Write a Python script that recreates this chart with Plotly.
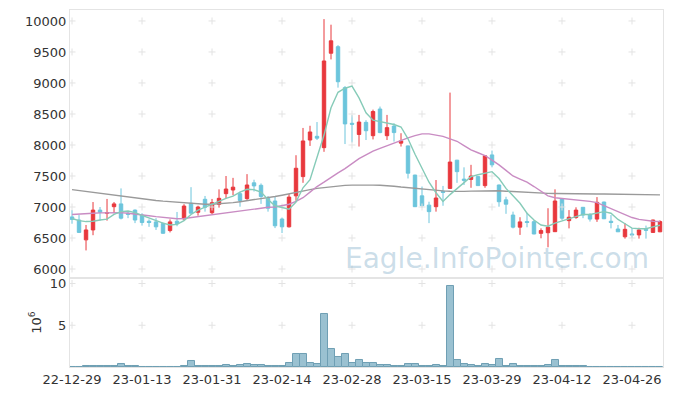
import plotly.graph_objects as go
from plotly.subplots import make_subplots

dates = [
    "22-12-29", "23-01-02", "23-01-03", "23-01-04", "23-01-05", "23-01-06", "23-01-09", "23-01-10",
    "23-01-11", "23-01-12", "23-01-13", "23-01-16", "23-01-17", "23-01-18", "23-01-19", "23-01-20",
    "23-01-25", "23-01-26", "23-01-27", "23-01-30", "23-01-31", "23-02-01", "23-02-02", "23-02-03",
    "23-02-06", "23-02-07", "23-02-08", "23-02-09", "23-02-10", "23-02-13", "23-02-14", "23-02-15",
    "23-02-16", "23-02-17", "23-02-20", "23-02-21", "23-02-22", "23-02-23", "23-02-24", "23-02-27",
    "23-02-28", "23-03-02", "23-03-03", "23-03-06", "23-03-07", "23-03-08", "23-03-09", "23-03-10",
    "23-03-13", "23-03-14", "23-03-15", "23-03-16", "23-03-17", "23-03-20", "23-03-21", "23-03-22",
    "23-03-23", "23-03-24", "23-03-27", "23-03-28", "23-03-29", "23-03-30", "23-03-31", "23-04-03",
    "23-04-04", "23-04-05", "23-04-06", "23-04-07", "23-04-10", "23-04-11", "23-04-12", "23-04-13",
    "23-04-14", "23-04-17", "23-04-18", "23-04-19", "23-04-20", "23-04-21", "23-04-24", "23-04-25",
    "23-04-26", "23-04-27", "23-04-28", "23-05-02", "23-05-03",
]

opens = [
    6840, 6790, 6470, 6630, 6950, 6900, 7005, 7050, 6900, 6950,
    6870, 6770, 6760, 6735, 6620, 6770, 6810, 7060, 6915, 7124,
    6908, 7043, 7215, 7274, 7215, 7135, 7390, 7350, 7140, 7097,
    6806, 6680, 7180, 7490, 8080, 8140, 7957, 9480, 9585, 8925,
    8350, 8170, 8365, 8150, 8580, 8150, 8305, 8030, 7985, 7515,
    7180, 7030, 7005, 7255, 7300, 7755, 7450, 7445, 7490, 7345,
    7840, 7355, 7115, 6870, 6675, 6765, 6763, 6575, 6585, 6602,
    7130, 6780, 6830, 6995, 6880, 6805, 7080, 6770, 6645, 6520,
    6565, 6550, 6640, 6590, 6600,
]
highs = [
    6950, 6870, 6710, 7080, 7000, 7130, 7080, 7300, 6930, 6960,
    6900, 6800, 6820, 6750, 6800, 6920, 7045, 7320, 7020, 7178,
    7130, 7285, 7500, 7470, 7247, 7530, 7440, 7380, 7177, 7177,
    6830, 7210, 7835, 8275, 8310, 8370, 10030, 9940, 9610, 8950,
    8480, 8485, 8400, 8570, 8620, 8485, 8350, 8190, 7990, 7520,
    7330, 7085, 7435, 7340, 8845, 7760, 7640, 7680, 7495, 7830,
    7910, 7360, 7165, 6925, 6835, 6908, 6790, 6655, 6980, 7285,
    7135, 6950, 6995, 7000, 6900, 7160, 7085, 6870, 6710, 6740,
    6660, 6665, 6700, 6795, 6785,
]
lows = [
    6730, 6580, 6300, 6545, 6780, 6780, 6900, 6800, 6820, 6740,
    6700, 6680, 6630, 6570, 6590, 6690, 6780, 6890, 6860, 6925,
    6887, 6990, 7140, 7190, 7005, 7115, 7250, 7050, 6925, 6660,
    6580, 6670, 7100, 7390, 7985, 8080, 7890, 9380, 8925, 8015,
    8040, 7975, 8080, 8090, 8190, 8080, 8055, 7975, 7460, 7000,
    6990, 6740, 6925, 7020, 7295, 7390, 7355, 7310, 7340, 7310,
    7640, 7005, 6890, 6655, 6550, 6673, 6560, 6495, 6350, 6600,
    6790, 6655, 6810, 6820, 6765, 6760, 6805, 6655, 6600, 6490,
    6500, 6490, 6490, 6585, 6595,
]
closes = [
    6800, 6590, 6630, 6950, 6915, 6910, 7050, 6820, 6880, 6790,
    6750, 6750, 6680, 6576, 6760, 6730, 7015, 6900, 7000, 6995,
    7070, 7140, 7290, 7320, 7105, 7355, 7340, 7170, 6980, 6697,
    6680, 7160, 7625, 8065, 8210, 8110, 9355, 9680, 9020, 8340,
    8335, 8370, 8230, 8540, 8200, 8280, 8200, 8065, 7545, 7005,
    7020, 6925, 7145, 7235, 7725, 7570, 7430, 7500, 7345, 7825,
    7680, 7085, 7045, 6675, 6760, 6750, 6565, 6620, 6675, 7097,
    6820, 6835, 6950, 6870, 6805, 7075, 6810, 6750, 6600, 6640,
    6550, 6630, 6625, 6790, 6765,
]
volumes = [  # millions of shares
    0.0, 0.0, 0.08, 0.1, 0.08, 0.08, 0.1, 0.35, 0.1, 0.08,
    0.0, 0.0, 0.0, 0.0, 0.0, 0.0, 0.08, 0.75, 0.08, 0.08,
    0.08, 0.08, 0.25, 0.1, 0.25, 0.4, 0.25, 0.25, 0.1, 0.1,
    0.1, 0.45, 1.5, 1.5, 0.5, 0.35, 6.4, 2.1, 1.15, 1.5,
    0.52, 0.88, 0.52, 0.52, 0.28, 0.28, 0.12, 0.12, 0.4, 0.4,
    0.15, 0.15, 0.28, 0.15, 9.7, 0.8, 0.4, 0.28, 0.15, 0.4,
    0.28, 1.0, 0.15, 0.4, 0.15, 0.15, 0.08, 0.08, 0.28, 0.8,
    0.15, 0.08, 0.08, 0.08, 0.0, 0.05, 0.05, 0.05, 0.05, 0.05,
    0.0, 0.0, 0.0, 0.05, 0.05,
]
ma5 = [
    6815, 6780, 6765, 6770, 6790, 6805, 6880, 6925, 6935, 6910,
    6865, 6820, 6780, 6740, 6710, 6720, 6780, 6880, 6950, 7000,
    7050, 7095, 7140, 7175, 7240, 7285, 7280, 7240, 7120, 7020,
    6990, 6965, 7080, 7310, 7440, 7800, 8160, 8600, 8850, 8915,
    8950, 8760, 8520, 8400, 8375, 8355, 8330, 8290, 8100, 7850,
    7620, 7400, 7230, 7090, 7200, 7300, 7400, 7490, 7520, 7545,
    7570, 7460, 7300, 7180, 7060, 6900, 6790, 6710, 6690, 6740,
    6775, 6800, 6845, 6880, 6880, 6900, 6925, 6900, 6800, 6730,
    6660, 6650, 6650, 6680, 6705,
]
ma20 = [
    6880, 6890, 6895, 6900, 6905, 6910, 6910, 6910, 6900, 6890,
    6875, 6860, 6845, 6830, 6820, 6810, 6815, 6830, 6850, 6870,
    6885, 6900, 6912, 6925, 6938, 6950, 6970, 6990, 6995, 7000,
    7020, 7045, 7090, 7150, 7240, 7330, 7400, 7480, 7550, 7620,
    7700, 7780, 7840, 7900, 7945, 7990, 8035, 8080, 8115, 8150,
    8180, 8180, 8165, 8140, 8100, 8060, 7990, 7920, 7875, 7830,
    7755, 7680, 7590, 7500, 7450, 7400, 7330, 7260, 7180, 7150,
    7140, 7130, 7120, 7110, 7090, 7070, 7020, 6970, 6920, 6875,
    6830, 6800, 6780, 6770, 6765,
]
ma60 = [
    7280, 7265, 7250, 7235, 7220, 7200, 7185, 7170, 7155, 7140,
    7130, 7118, 7106, 7094, 7084, 7075, 7068, 7060, 7052, 7045,
    7045, 7050, 7060, 7070, 7085, 7100, 7115, 7130, 7150, 7170,
    7190, 7215, 7240, 7260, 7280, 7300, 7315, 7330, 7340, 7348,
    7352, 7355, 7355, 7353, 7350, 7345, 7335, 7322, 7310, 7300,
    7290, 7280, 7270, 7260, 7255, 7250, 7252, 7256, 7260, 7265,
    7270, 7262, 7255, 7248, 7240, 7235, 7230, 7225, 7220, 7218,
    7215, 7214, 7213, 7212, 7211, 7210, 7209, 7208, 7207, 7206,
    7205, 7202, 7200, 7198, 7195,
]

price_ticks = [6000, 6500, 7000, 7500, 8000, 8500, 9000, 9500, 10000]
volume_ticks = [5, 10]
x_tick_labels = dates[::10]

FONT = "DejaVu Sans"
UP = "#e8383d"
DOWN = "#6cc5dc"
FRAME = "#e4e4e4"
GRIDMARK = "#e3e3e3"

fig = make_subplots(rows=2, cols=1, shared_xaxes=True, vertical_spacing=0)

fig.add_trace(go.Candlestick(
    x=dates, open=opens, high=highs, low=lows, close=closes,
    increasing=dict(line=dict(color=UP, width=1), fillcolor=UP),
    decreasing=dict(line=dict(color=DOWN, width=1), fillcolor=DOWN),
    whiskerwidth=0, name="price"), row=1, col=1)

fig.add_trace(go.Bar(x=dates, y=volumes, marker=dict(color="#9ac1d1",
                                                     line=dict(color="#6f9fb4", width=1)),
                     name="volume"), row=2, col=1)

# grid "+" marks at tick intersections
gx, gy = [], []
for d in x_tick_labels:
    for v in price_ticks:
        gx.append(d)
        gy.append(v)
fig.add_trace(go.Scatter(x=gx, y=gy, mode="markers", hoverinfo="skip",
                         marker=dict(symbol="cross-thin", size=5,
                                     line=dict(color=GRIDMARK, width=1))),
              row=1, col=1)
vx, vy = [], []
for d in x_tick_labels:
    for v in volume_ticks:
        vx.append(d)
        vy.append(v)
fig.add_trace(go.Scatter(x=vx, y=vy, mode="markers", hoverinfo="skip",
                         marker=dict(symbol="cross-thin", size=5,
                                     line=dict(color=GRIDMARK, width=1))),
              row=2, col=1)

fig.add_trace(go.Scatter(x=dates, y=ma60, mode="lines",
                         line=dict(color="#9a9a9a", width=1.4), name="MA60"), row=1, col=1)
fig.add_trace(go.Scatter(x=dates, y=ma20, mode="lines",
                         line=dict(color="#c98cc3", width=1.4), name="MA20"), row=1, col=1)
fig.add_trace(go.Scatter(x=dates, y=ma5, mode="lines",
                         line=dict(color="#86cbb8", width=1.4), name="MA5"), row=1, col=1)

xr = [-0.29, 84.43]
fig.update_xaxes(type="category", categoryorder="array", categoryarray=dates,
                 range=xr, showgrid=False, zeroline=False, automargin=False,
                 showline=True, mirror=True, linecolor=FRAME, linewidth=1,
                 rangeslider=dict(visible=False), ticks="",
                 tickvals=x_tick_labels, ticktext=x_tick_labels, tickangle=0)
fig.update_xaxes(showticklabels=False, row=1, col=1)
fig.update_xaxes(showticklabels=True, row=2, col=1,
                 tickfont=dict(family=FONT, size=13, color="#333333"))

fig.update_yaxes(range=[5855, 10177], tickvals=price_ticks, tickformat="d",
                 showgrid=False, zeroline=False, showline=True, mirror=True, automargin=False,
                 linecolor=FRAME, ticks="", domain=[0.2493, 1.0],
                 tickfont=dict(family=FONT, size=13, color="#333333"), row=1, col=1)
fig.update_yaxes(range=[0, 10.66], tickvals=volume_ticks, showgrid=False, zeroline=False,
                 showline=True, mirror=True, linecolor=FRAME, ticks="", domain=[0.0, 0.2493],
                 automargin=False,
                 title=dict(text="10<sup>6</sup>", font=dict(family=FONT, size=13, color="#333333"),
                            standoff=5),
                 tickfont=dict(family=FONT, size=13, color="#333333"), row=2, col=1)

fig.add_annotation(text="Eagle.InfoPointer.com", xref="paper", yref="paper",
                   x=0.98, y=0.305, xanchor="right", yanchor="middle", showarrow=False,
                   font=dict(family=FONT, size=28, color="rgba(140,180,205,0.45)"))

fig.update_layout(width=673, height=396, margin=dict(l=70, r=10, t=10, b=29),
                  paper_bgcolor="white", plot_bgcolor="white", showlegend=False,
                  bargap=0, font=dict(family=FONT))

fig.write_html("out.html", config={"displayModeBar": False},
               post_script="document.body.style.margin='0';document.body.style.padding='0';")
